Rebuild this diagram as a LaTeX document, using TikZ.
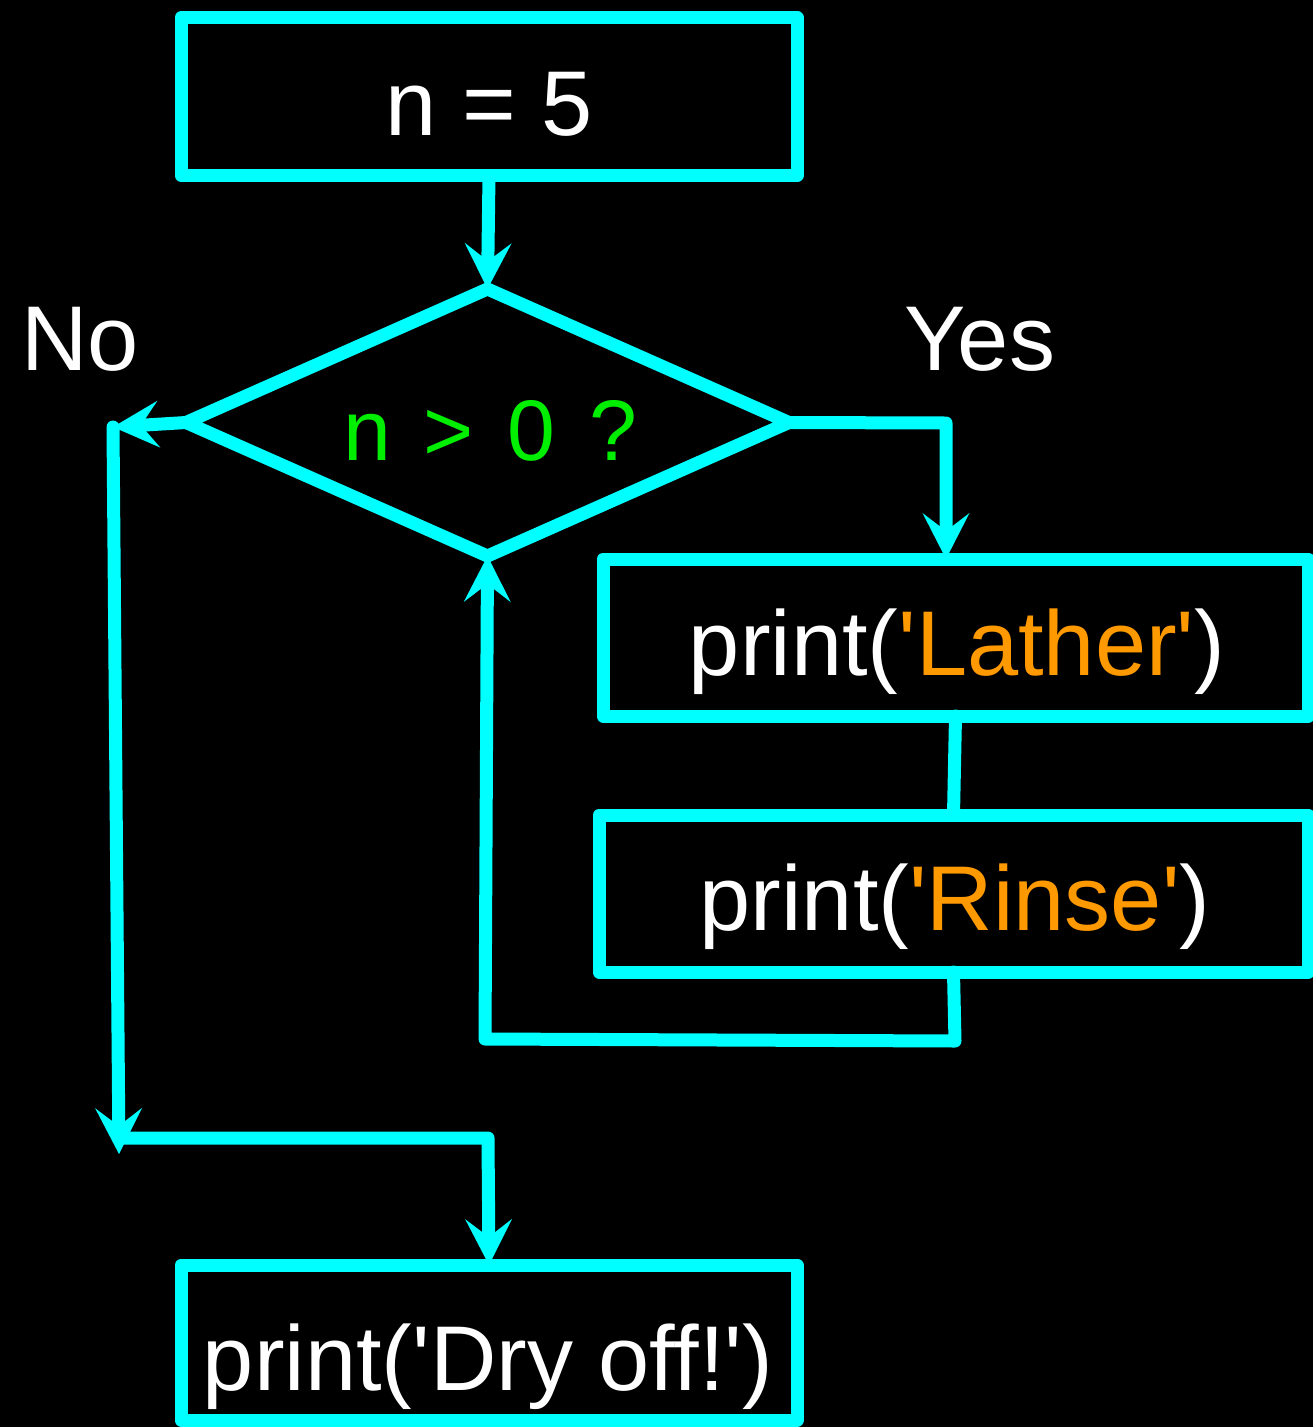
\documentclass[tikz,border=0pt]{standalone}
\usepackage{fontspec}
\setmainfont{Liberation Sans}
\usetikzlibrary{shapes.geometric,arrows.meta}
\definecolor{cy}{RGB}{0,255,255}
\definecolor{orng}{RGB}{255,153,0}
\definecolor{grn}{RGB}{0,238,0}
\newcommand\monocell[1]{\makebox[41pt]{#1}}
\newcommand\sq{\textquotesingle}
\begin{document}
\begin{tikzpicture}[x=1pt,y=-1pt,
  box/.style={draw=cy, line width=13pt, rectangle, inner sep=0pt, outer sep=0pt, line join=round},
  dia/.style={draw=cy, line width=13pt, diamond, inner sep=0pt, outer sep=0pt, minimum width=603pt, minimum height=267pt, line join=miter},
  conn/.style={draw=cy, line width=13pt, line cap=round, line join=round},
  arr/.style={conn, -{Stealth[length=46pt,width=47pt,inset=18pt,line width=0pt]}},
  txt/.style={text=white, inner sep=0pt, anchor=base, font=\fontsize{92pt}{100pt}\selectfont},
  gtxt/.style={text=grn, inner sep=0pt, anchor=base, font=\fontsize{86pt}{100pt}\selectfont}
]
\fill[black] (0,0) rectangle (1313,1427);
\useasboundingbox (0,0) rectangle (1313,1427);

% boxes
\node[box, minimum width=616pt, minimum height=158pt] (b1) at (489,96.5) {};
\node[dia] (d) at (487.5,422.5) {};
\node[box, minimum width=705pt, minimum height=157pt] (b2) at (955.5,637.5) {};
\node[box, minimum width=709pt, minimum height=157pt] (b3) at (953.5,893.5) {};
\node[box, minimum width=616pt, minimum height=155pt] (b4) at (489,1342.5) {};

% texts
\node[txt] (t1) at (489,135) {n = 5};
\node[gtxt] (t2) at (490,460) {\monocell{n}\monocell{ }\monocell{>}\monocell{ }\monocell{0}\monocell{ }\monocell{?}};
\node[txt] (t3) at (957,675) {print(\textcolor{orng}{\sq Lather\sq})};
\node[txt] (t4) at (955,930) {print(\textcolor{orng}{\sq Rinse\sq})};
\node[txt] (t5) at (488,1390) {print(\sq Dry off!\sq)};
\node[txt] (no) at (80,370) {No};
\node[txt] (yes) at (980,370) {Yes};

% coordinates
\coordinate (cNo) at (113,427);
\coordinate (cNoDown) at (119,1154);
\coordinate (cL2) at (119,1138);
\coordinate (cJoin) at (488,1138);
\coordinate (cYes) at (946,423);
\coordinate (cR) at (955,1041);
\coordinate (cB) at (485,1039);

% connectors
\draw[arr] (b1.south) -- (d.north);
\draw[arr] (d.west) -- (cNo);
\draw[arr] (cNo) -- (cNoDown);
\draw[arr] (cL2) -- (cJoin) -- (b4.north);
\draw[arr] (d.east) -- (cYes) -- (cYes |- b2.north);
\draw[conn] (b2.south) -- (b3.north);
\draw[arr] (b3.south) -- (cR) -- (cB) -- (d.south);
\end{tikzpicture}
\end{document}
